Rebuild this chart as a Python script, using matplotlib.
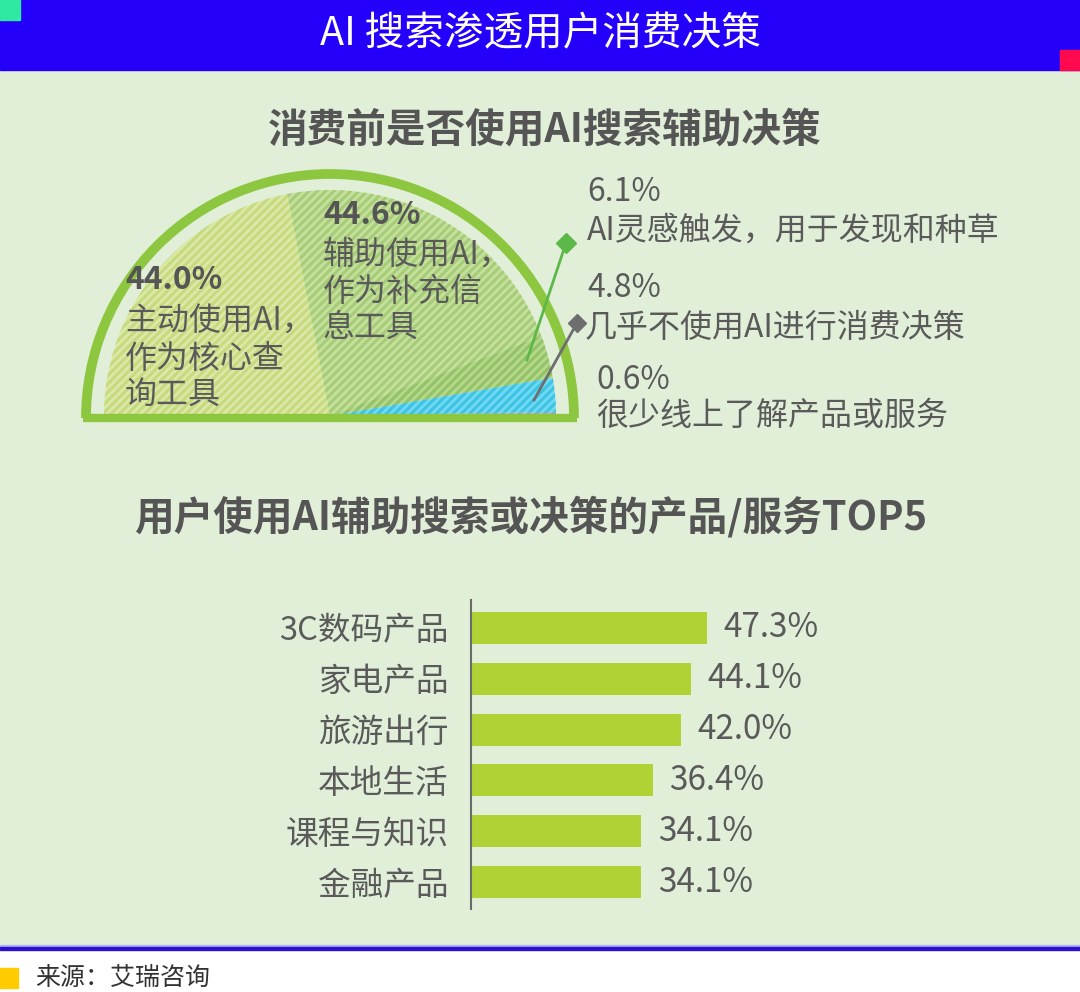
import matplotlib
matplotlib.use("Agg")
import matplotlib.pyplot as plt
from matplotlib.patches import Rectangle, Arc

plt.rcParams['font.family'] = ['Noto Sans CJK SC', 'DejaVu Sans']
plt.rcParams['hatch.linewidth'] = 2.2

# 数据
pie_vals = [44.0, 44.6, 6.1, 4.8, 0.6]
pie_colors = ['#DCE9A6', '#C6E09C', '#B5D88A', '#6EDAF3', '#9CC6D2']
pie_hatch_colors = ['#C6DA80', '#A5CC78', '#94C268', '#40C2E4', '#7FB0C0']

bar_cats = ['3C数码产品', '家电产品', '旅游出行', '本地生活', '课程与知识', '金融产品']
bar_vals = [47.3, 44.1, 42.0, 36.4, 34.1, 34.1]

W, H = 1080, 992
BG = '#E1EFD9'
TXT = '#5A5A5A'

fig = plt.figure(figsize=(W / 100, H / 100), dpi=100)
fig.patch.set_facecolor('white')

ax = fig.add_axes([0, 0, 1, 1])
ax.set_xlim(0, W)
ax.set_ylim(0, H)
ax.axis('off')


def Y(y):
    # pixel y from top -> data y
    return H - y


# 背景和标题栏
ax.add_patch(Rectangle((0, Y(946)), W, 946 - 70, color=BG, zorder=0))
ax.add_patch(Rectangle((0, Y(70)), W, 70, color='#2400FB', zorder=1))
ax.add_patch(Rectangle((0, Y(20)), 20, 20, color='#2FE8A2', zorder=2))
ax.add_patch(Rectangle((1060, Y(70)), 20, 20, color='#FF0A4E', zorder=2))
ax.text(540, Y(34), 'AI 搜索渗透用户消费决策', color='white', fontsize=28.5,
        ha='center', va='center', zorder=3)

ax.add_patch(Rectangle((0, Y(947)), W, 2, color='#B4B4F2', zorder=1))
ax.add_patch(Rectangle((0, Y(950)), W, 3, color='#2A10D0', zorder=1))
ax.add_patch(Rectangle((0, Y(988)), 18, 20, color='#FFCC00', zorder=2))
ax.text(35, Y(978), '来源：艾瑞咨询', color='#333333', fontsize=18,
        ha='left', va='center')

# 小标题
ax.text(545, Y(130), '消费前是否使用AI搜索辅助决策', color='#555555', fontsize=28.5,
        fontweight='bold', ha='center', va='center')
ax.text(531, Y(518), '用户使用AI辅助搜索或决策的产品/服务TOP5', color='#555555',
        fontsize=28.5, fontweight='bold', ha='center', va='center')

# 半圆饼图
cx, cy, r = 330, Y(416), 226
total = sum(pie_vals)
wedges, _ = ax.pie(pie_vals + [total], startangle=180, counterclock=False,
                   center=(cx, cy), radius=r,
                   colors=pie_colors + ['none'])
for w, hc in zip(wedges[:-1], pie_hatch_colors):
    w.set_hatch('////')
    w.set_edgecolor(hc)
    w.set_linewidth(0)
    w.set_zorder(2)
wedges[-1].set_visible(False)

ring_r = 244
ax.add_patch(Arc((cx, cy - 2), 2 * ring_r, 2 * ring_r, theta1=0, theta2=180,
                 color='#8DC63F', lw=7, zorder=3))
ax.plot([cx - ring_r - 3, cx + ring_r + 3], [cy - 2, cy - 2], color='#8DC63F',
        lw=6, solid_capstyle='butt', zorder=3)

ax.set_xlim(0, W)
ax.set_ylim(0, H)
ax.set_aspect('auto')

# 饼图标签
left_labels = [
    (125, 280, '44.0%', True), (125, 322, '主动使用AI，', False),
    (125, 359, '作为核心查', False), (125, 396, '询工具', False),
    (323, 215, '44.6%', True), (323, 255, '辅助使用AI，', False),
    (323, 292, '作为补充信', False), (323, 328, '息工具', False),
]
for x, y, s, b in left_labels:
    ax.text(x, Y(y), s, color='#555555' if b else TXT, fontsize=23,
            fontweight='bold' if b else 'normal', ha='left', va='center',
            zorder=4)

right_labels = [
    (587, 192, '6.1%'), (587, 231, 'AI灵感触发，用于发现和种草'),
    (587, 288, '4.8%'), (585, 328, '几乎不使用AI进行消费决策'),
    (596, 380, '0.6%'), (596, 416, '很少线上了解产品或服务'),
]
for x, y, s in right_labels:
    ax.text(x, Y(y), s, color=TXT, fontsize=23, ha='left', va='center', zorder=4)

# 引导线
ax.plot([527, 566], [Y(360), Y(243)], color='#5DB84A', lw=2, zorder=4)
ax.plot([566], [Y(243)], marker='D', ms=10, color='#5DB84A', zorder=5)
ax.plot([534, 577], [Y(400), Y(323)], color='#6E6E6E', lw=2, zorder=4)
ax.plot([577], [Y(323)], marker='D', ms=9, color='#6E6E6E', zorder=5)

# 条形图
bx = fig.add_axes([471 / W, (H - 909) / H, 499 / W, 309 / H])
bx.patch.set_alpha(0)
ypos = list(range(len(bar_cats)))
bars = bx.barh(ypos, bar_vals, height=0.63, color='#B0D234')
bx.set_xlim(0, 100)
bx.set_ylim(5.53, -0.55)
bx.set_yticks(ypos)
bx.set_yticklabels(bar_cats, fontsize=23.5, color=TXT)
bx.tick_params(axis='y', length=0, pad=16)
bx.set_xticks([])
for s in ['top', 'right', 'bottom']:
    bx.spines[s].set_visible(False)
bx.spines['left'].set_color('#6A6A6A')
bx.spines['left'].set_linewidth(1.5)
bx.bar_label(bars, labels=[f'{v:.1f}%' for v in bar_vals], padding=12,
             fontsize=24, color=TXT)

fig.savefig('out.png', dpi=100, facecolor=fig.get_facecolor())
